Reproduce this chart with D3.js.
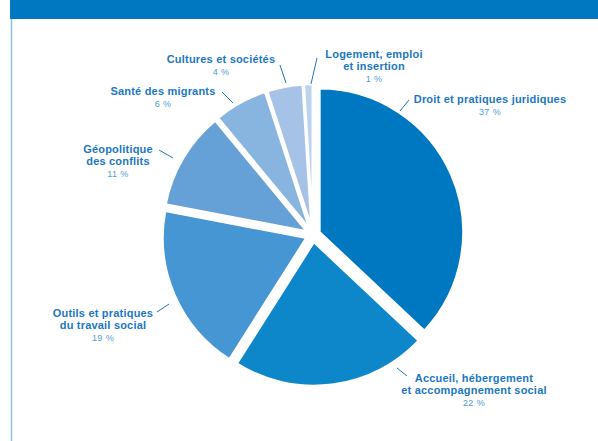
<!DOCTYPE html>
<html lang="fr">
<head>
<meta charset="utf-8">
<script src="https://cdn.jsdelivr.net/npm/d3@7"></script>
<style>
  html, body { margin: 0; padding: 0; background: #fff; }
  svg { display: block; }
</style>
</head>
<body>
<svg id="chart" width="598" height="441"></svg>
<script>
// Thèmes et parts (%)
const categories = [
  "Droit et pratiques juridiques",
  "Accueil, hébergement et accompagnement social",
  "Outils et pratiques du travail social",
  "Géopolitique des conflits",
  "Santé des migrants",
  "Cultures et sociétés",
  "Logement, emploi et insertion"
];
const values = [37, 22, 19, 11, 6, 4, 1];
const labelLines = [
  ["Droit et pratiques juridiques"],
  ["Accueil, hébergement", "et accompagnement social"],
  ["Outils et pratiques", "du travail social"],
  ["Géopolitique", "des conflits"],
  ["Santé des migrants"],
  ["Cultures et sociétés"],
  ["Logement, emploi", "et insertion"]
];
const colors = ["#0077c1", "#0d87ca", "#4596d3", "#65a1d7", "#88b4e0", "#a6c3e7", "#bcd3ee"];

// Label placement: text centre x, first baseline y, leader tick from/to
const labelLayout = [
  { x: 490, y: 103, tick: [[409, 100], [400, 111]] },
  { x: 474, y: 382, tick: [[397, 368], [407, 376]] },
  { x: 103, y: 317, tick: [[169, 304], [157, 312]] },
  { x: 118, y: 153, tick: [[159, 150], [173, 158]] },
  { x: 163, y: 95,  tick: [[222, 92], [233, 103]] },
  { x: 221, y: 63,  tick: [[280, 65], [286, 83]] },
  { x: 374, y: 58,  tick: [[317, 58], [311, 84]] }
];

const svg = d3.select("#chart");
const W = 598, H = 441;
const cx = 313, cy = 235, radius = 144, explode = 7;
const nameColor = "#1a78c2", pctColor = "#4d9dd8";
const lineGap = 12.3, pctGap = 11.5;

// Header band and left rule
svg.append("rect").attr("x", 10).attr("y", 0).attr("width", W - 10).attr("height", 19)
  .attr("fill", "#0077c1");
svg.append("line").attr("x1", 11.5).attr("x2", 11.5).attr("y1", 19).attr("y2", H)
  .attr("stroke", "#8dc0e8").attr("stroke-width", 1.5);

const table = categories.map((c, i) => ({ name: c, value: values[i], lines: labelLines[i] }));
const pie = d3.pie().sort(null).value(d => d.value);
const arc = d3.arc().innerRadius(0).outerRadius(radius);
const arcs = pie(table);

const g = svg.append("g").attr("transform", `translate(${cx},${cy})`);
g.selectAll("path.slice").data(arcs).join("path")
  .attr("class", "slice")
  .attr("d", arc)
  .attr("fill", (d, i) => colors[i])
  .attr("stroke", "#fff")
  .attr("stroke-width", 2.5)
  .attr("stroke-linejoin", "miter")
  .attr("transform", d => {
    const mid = (d.startAngle + d.endAngle) / 2;
    return `translate(${explode * Math.sin(mid)},${-explode * Math.cos(mid)})`;
  });

// Labels: one text element per line
const fontFamily = "'Liberation Sans', Arial, sans-serif";
arcs.forEach((d, i) => {
  const L = labelLayout[i];
  svg.append("line")
    .attr("x1", L.tick[0][0]).attr("y1", L.tick[0][1])
    .attr("x2", L.tick[1][0]).attr("y2", L.tick[1][1])
    .attr("stroke", nameColor).attr("stroke-width", 1);
  d.data.lines.forEach((ln, k) => {
    svg.append("text")
      .attr("x", L.x).attr("y", L.y + k * lineGap)
      .attr("text-anchor", "middle")
      .attr("font-family", fontFamily)
      .attr("font-size", 11).attr("font-weight", 700).attr("fill", nameColor)
      .attr("letter-spacing", 0.2)
      .text(ln);
  });
  svg.append("text")
    .attr("x", L.x).attr("y", L.y + (d.data.lines.length - 1) * lineGap + pctGap)
    .attr("text-anchor", "middle")
    .attr("font-family", fontFamily)
    .attr("font-size", 9).attr("font-weight", 400).attr("fill", pctColor)
    .attr("letter-spacing", 0.4)
    .text(`${d.data.value} %`);
});
</script>
</body>
</html>
